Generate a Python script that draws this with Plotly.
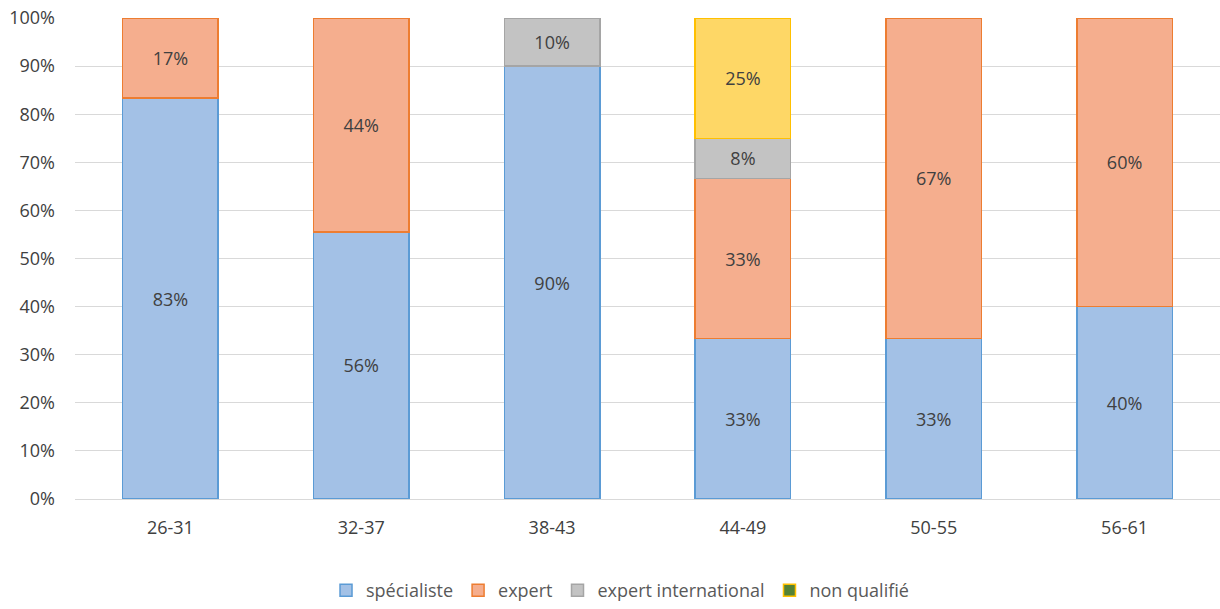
import plotly.graph_objects as go

categories = ["26-31", "32-37", "38-43", "44-49", "50-55", "56-61"]
specialiste = [83.33, 55.56, 90.0, 33.33, 33.33, 40.0]
expert = [16.67, 44.44, 0, 33.33, 66.67, 60.0]
expert_international = [0, 0, 10.0, 8.33, 0, 0]
non_qualifie = [0, 0, 0, 25.0, 0, 0]
y_ticks = [0, 10, 20, 30, 40, 50, 60, 70, 80, 90, 100]
y_tick_labels = [f"{v}%" for v in y_ticks]

FONT = "Open Sans, Liberation Sans, sans-serif"

series = [
    ("spécialiste", specialiste, "#a3c1e6", "#5b9bd5"),
    ("expert", expert, "#f5ae8e", "#ed7d31"),
    ("expert international", expert_international, "#c3c3c3", "#a5a5a5"),
    ("non qualifié", non_qualifie, "#fed766", "#ffc000"),
]

fig = go.Figure()
for name, vals, fill, line in series:
    yvals = [v if v > 0 else None for v in vals]
    texts = [f"{v:.0f}%" if v > 0 else "" for v in vals]
    fig.add_trace(go.Bar(
        x=categories, y=yvals, name=name,
        marker=dict(color=fill, line=dict(color=line, width=1.5)),
        text=texts, textposition="inside", insidetextanchor="middle",
        textfont=dict(color="#404040", size=18, family=FONT),
        showlegend=(name != "non qualifié"),
        hoverinfo="skip",
    ))

# legend entry for "non qualifié" as drawn in the original (green with yellow border)
fig.add_trace(go.Bar(
    x=[None], y=[None], name="non qualifié",
    marker=dict(color="#548235", line=dict(color="#ffc000", width=1.5)),
    showlegend=True,
))

fig.update_layout(
    barmode="stack",
    bargap=0.5,
    width=1220, height=609,
    margin=dict(l=75, r=0, t=18, b=110),
    plot_bgcolor="white", paper_bgcolor="white",
    font=dict(family=FONT, size=18, color="#595959"),
    legend=dict(
        orientation="h", x=0.476, xanchor="center", y=-0.2287, yanchor="bottom",
        font=dict(size=18, color="#595959", family=FONT),
        itemwidth=30, traceorder="normal",
    ),
    xaxis=dict(
        showgrid=False, showline=False, zeroline=False, automargin=False,
        ticks="", ticklabelstandoff=16,
        tickfont=dict(size=18, color="#404040"),
    ),
    yaxis=dict(
        range=[0, 100], tickvals=y_ticks, ticktext=y_tick_labels,
        showgrid=True, gridcolor="#d9d9d9", gridwidth=1, automargin=False,
        zeroline=True, zerolinecolor="#d9d9d9", zerolinewidth=1,
        showline=False, ticks="", ticklabelstandoff=19,
        ticklabeloverflow="allow",
        tickfont=dict(size=18, color="#404040"),
    ),
)

fig.write_html(
    "out.html",
    config={"displayModeBar": False},
    post_script="document.body.style.margin='0';document.body.style.overflow='hidden';",
)
